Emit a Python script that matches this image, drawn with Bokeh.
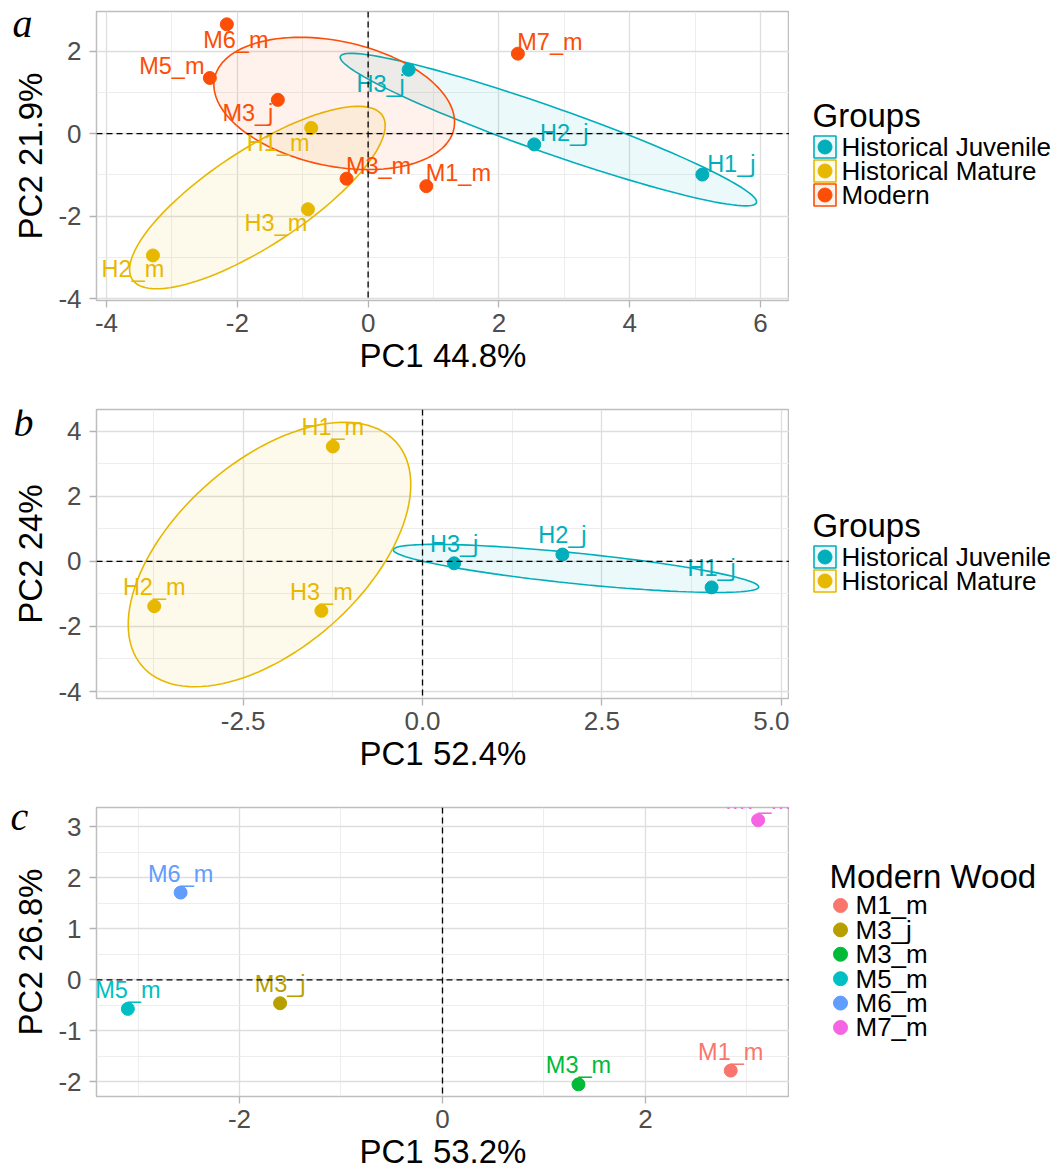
import numpy as np
from bokeh.plotting import figure
from bokeh.models import ColumnDataSource, Range1d, FixedTicker, Span
from bokeh.layouts import column, row
from bokeh.core.properties import value
from bokeh.embed import file_html
from bokeh.resources import INLINE

# ---------------- data ----------------
group_names = ["Historical Juvenile", "Historical Mature", "Modern"]
group_colors = ["#00AFBB", "#E7B800", "#FC4E07"]

# panel a
a_names = ["H1_j", "H2_j", "H3_j", "H1_m", "H2_m", "H3_m",
           "M1_m", "M3_j", "M3_m", "M5_m", "M6_m", "M7_m"]
a_groups = ["Historical Juvenile"] * 3 + ["Historical Mature"] * 3 + ["Modern"] * 6
a_pc1 = [5.11, 2.54, 0.62, -0.87, -3.29, -0.92, 0.89, -1.38, -0.33, -2.42, -2.16, 2.29]
a_pc2 = [-0.99, -0.26, 1.55, 0.14, -2.95, -1.83, -1.27, 0.82, -1.09, 1.35, 2.65, 1.94]
a_xlabel = "PC1 44.8%"
a_ylabel = "PC2 21.9%"
a_xticks = [-4, -2, 0, 2, 4, 6]
a_xtick_labels = ["-4", "-2", "0", "2", "4", "6"]
a_yticks = [-4, -2, 0, 2]
a_ytick_labels = ["-4", "-2", "0", "2"]

# panel b
b_names = ["H1_j", "H2_j", "H3_j", "H1_m", "H2_m", "H3_m"]
b_groups = ["Historical Juvenile"] * 3 + ["Historical Mature"] * 3
b_pc1 = [4.03, 1.95, 0.44, -1.25, -3.74, -1.41]
b_pc2 = [-0.80, 0.21, -0.06, 3.53, -1.38, -1.52]
b_xlabel = "PC1 52.4%"
b_ylabel = "PC2 24%"
b_xticks = [-2.5, 0.0, 2.5, 5.0]
b_xtick_labels = ["-2.5", "0.0", "2.5", "5.0"]
b_yticks = [-4, -2, 0, 2, 4]
b_ytick_labels = ["-4", "-2", "0", "2", "4"]

# panel c
c_names = ["M1_m", "M3_j", "M3_m", "M5_m", "M6_m", "M7_m"]
c_colors = ["#F8766D", "#B79F00", "#00BA38", "#00BFC4", "#619CFF", "#F564E3"]
c_pc1 = [2.84, -1.60, 1.34, -3.10, -2.58, 3.11]
c_pc2 = [-1.78, -0.46, -2.05, -0.57, 1.71, 3.13]
c_xlabel = "PC1 53.2%"
c_ylabel = "PC2 26.8%"
c_xticks = [-2, 0, 2]
c_xtick_labels = ["-2", "0", "2"]
c_yticks = [-2, -1, 0, 1, 2, 3]
c_ytick_labels = ["-2", "-1", "0", "1", "2", "3"]

# ---------------- styling ----------------
FONT = "Liberation Sans"
LAB_SIZE = 23.5
LEG_SIZE = 26
TITLE_SIZE = 33
LETTER_SIZE = 40
BASE_FIX = 0.36      # em shift observed between requested and drawn baseline
LEFT_W = 48          # strip holding the panel letter and the y title
MAIN_W = 741         # 48 px tick-label border + 693 px frame
LEG_W = 268
FILL_ALPHA = 0.08

# label placement offsets (pixels, from point to label centre) for panel a
a_lab_dx = [29, 30, -28, -33, -20, -32, 32, -30, 32, -38, 9, 32]
a_lab_dy = [-11, -11, 14, 15, 14, 14, -13, 13, -13, -12, 16, -12]


def conf_ellipse(x, y, chi2=5.991, npts=120):
    x = np.asarray(x, float)
    y = np.asarray(y, float)
    n = len(x)
    cov = np.cov(x, y) / n
    vals, vecs = np.linalg.eigh(cov)
    t = np.linspace(0, 2 * np.pi, npts)
    circ = np.vstack([np.cos(t), np.sin(t)])
    pts = vecs @ (np.sqrt(vals * chi2)[:, None] * circ)
    return x.mean() + pts[0], y.mean() + pts[1]


def strip_fig(width, height, top, bottom, xr, yr):
    f = figure(width=width, height=height, x_range=Range1d(*xr), y_range=Range1d(*yr),
               output_backend="svg", toolbar_location=None,
               min_border_left=0, min_border_right=0,
               min_border_top=top, min_border_bottom=bottom,
               x_axis_location=None, y_axis_location=None)
    f.grid.visible = False
    f.outline_line_color = None
    f.background_fill_color = "white"
    f.border_fill_color = "white"
    return f


def left_fig(height, top, bottom, page_top, letter, letter_xy, ylabel):
    # coordinates: x = page x, y = -(page y)
    ft = page_top + top
    fb = page_top + height - bottom
    f = strip_fig(LEFT_W, height, top, bottom, (0, LEFT_W), (-fb, -ft))
    f.text([letter_xy[0]], [-(letter_xy[1] - BASE_FIX * LETTER_SIZE)], text=[letter],
           text_color="black", text_align="left", text_baseline="alphabetic",
           text_font=value("Liberation Serif"), text_font_style="italic",
           text_font_size=f"{LETTER_SIZE}px")
    f.text([42 - BASE_FIX * TITLE_SIZE], [-(ft + fb) / 2], text=[ylabel], angle=np.pi / 2,
           text_color="black", text_align="center", text_baseline="alphabetic",
           text_font=value(FONT), text_font_size=f"{TITLE_SIZE}px")
    return f


def main_fig(height, top, bottom, xr, yr, xt, xtl, xminor, yt, ytl, yminor, xlabel):
    p = figure(width=MAIN_W, height=height, x_range=Range1d(*xr), y_range=Range1d(*yr),
               output_backend="svg", toolbar_location=None,
               min_border_left=LEFT_W, min_border_right=0,
               min_border_top=top, min_border_bottom=bottom)
    p.background_fill_color = "white"
    p.border_fill_color = "white"
    p.outline_line_color = "#BEBEBE"
    p.outline_line_width = 1.5

    p.xaxis.ticker = FixedTicker(ticks=xt, minor_ticks=xminor)
    p.yaxis.ticker = FixedTicker(ticks=yt, minor_ticks=yminor)
    p.xaxis.major_label_overrides = {t: s for t, s in zip(xt, xtl)}
    p.yaxis.major_label_overrides = {t: s for t, s in zip(yt, ytl)}
    for ax in (p.xaxis, p.yaxis):
        ax.axis_line_color = None
        ax.major_tick_line_color = "#B3B3B3"
        ax.major_tick_line_width = 1.3
        ax.major_tick_out = 7
        ax.major_tick_in = 0
        ax.minor_tick_out = 0
        ax.minor_tick_in = 0
        ax.major_label_text_font = FONT
        ax.major_label_text_font_size = "26px"
        ax.major_label_text_color = "#4D4D4D"
        ax.axis_label_text_font = FONT
        ax.axis_label_text_font_size = f"{TITLE_SIZE}px"
        ax.axis_label_text_font_style = "normal"
        ax.axis_label_text_color = "black"
    p.xaxis.major_label_standoff = 6
    p.xaxis.axis_label_standoff = 2
    p.yaxis.major_label_standoff = 8
    p.xaxis.axis_label = xlabel

    for g in (p.xgrid, p.ygrid):
        g.grid_line_color = "#DEDEDE"
        g.grid_line_width = 1.3
        g.minor_grid_line_color = "#EBEBEB"
        g.minor_grid_line_width = 0.9

    p.add_layout(Span(location=0, dimension="width", line_color="black",
                      line_dash="6 4", line_width=1.3))
    p.add_layout(Span(location=0, dimension="height", line_color="black",
                      line_dash="6 4", line_width=1.3))
    return p


def label_offset(dy):
    # centre of the capitals at dy px below the point
    return dy + 0.358 * LAB_SIZE - BASE_FIX * LAB_SIZE


def add_groups(p, names, groups, pc1, pc2, dx, dy, present):
    cmap = dict(zip(group_names, group_colors))
    for g in present:
        xs = [x for x, gg in zip(pc1, groups) if gg == g]
        ys = [y for y, gg in zip(pc2, groups) if gg == g]
        ex, ey = conf_ellipse(xs, ys)
        p.patch(ex, ey, fill_color=cmap[g], fill_alpha=FILL_ALPHA,
                line_color=cmap[g], line_width=1.6)
    cols = [cmap[g] for g in groups]
    src = ColumnDataSource(dict(x=pc1, y=pc2, name=names, color=cols,
                                dx=dx, dy=[label_offset(d) for d in dy]))
    p.scatter("x", "y", source=src, size=13, color="color", line_color="color")
    p.text("x", "y", text="name", source=src, x_offset="dx", y_offset="dy",
           text_color="color", text_align="center", text_baseline="alphabetic",
           text_font=value(FONT), text_font_size=f"{LAB_SIZE}px")


def legend_fig(height, top, bottom, page_top, title, title_xy, labels, colors,
               row0, step, key_x, lab_x, boxed):
    # coordinates: x = page x, y = -(page y)
    ft = page_top + top
    fb = page_top + height - bottom
    x0 = LEFT_W + MAIN_W
    lf = strip_fig(LEG_W, height, top, bottom, (x0, x0 + LEG_W), (-fb, -ft))
    n = len(labels)
    ys = [row0 + i * step for i in range(n)]
    src = ColumnDataSource(dict(x=[key_x] * n, y=[-v for v in ys], lx=[lab_x] * n,
                                ly=[-(v + (0.358 - BASE_FIX) * LEG_SIZE) for v in ys],
                                label=labels, color=colors))
    if boxed:
        lf.rect("x", "y", width=22, height=22, source=src, fill_color="color",
                fill_alpha=FILL_ALPHA, line_color="color", line_width=1.6)
    lf.scatter("x", "y", source=src, size=14, color="color")
    lf.text("lx", "ly", text="label", source=src, text_color="black",
            text_baseline="alphabetic", text_align="left",
            text_font=value(FONT), text_font_size=f"{LEG_SIZE}px")
    lf.text([title_xy[0]], [-(title_xy[1] - BASE_FIX * TITLE_SIZE)], text=[title],
            text_color="black", text_baseline="alphabetic", text_align="left",
            text_font=value(FONT), text_font_size=f"{TITLE_SIZE}px")
    return lf


# ---------------- panel a ----------------
HA, TA, BA, PA = 390, 11, 90, 0
pa = main_fig(HA, TA, BA, (-4.153, 6.443), (-4.041, 2.961),
              a_xticks, a_xtick_labels, [-3, -1, 1, 3, 5],
              a_yticks, a_ytick_labels, [-3, -1, 1], a_xlabel)
add_groups(pa, a_names, a_groups, a_pc1, a_pc2, a_lab_dx, a_lab_dy, group_names)
lefta = left_fig(HA, TA, BA, PA, "a", (12, 37), a_ylabel)
la = legend_fig(HA, TA, BA, PA, "Groups", (812, 127), group_names, group_colors,
                146.5, 24, 824.5, 841, True)

# ---------------- panel b ----------------
HB, TB, BB, PB = 395, 19, 87, 390
pb = main_fig(HB, TB, BB, (-4.545, 5.116), (-4.215, 4.667),
              b_xticks, b_xtick_labels, [-3.75, -1.25, 1.25, 3.75],
              b_yticks, b_ytick_labels, [-3, -1, 1, 3], b_xlabel)
add_groups(pb, b_names, b_groups, b_pc1, b_pc2, [0] * 6, [-19] * 6, group_names[:2])
leftb = left_fig(HB, TB, BB, PB, "b", (13, 436), b_ylabel)
lb = legend_fig(HB, TB, BB, PB, "Groups", (812, 537), group_names[:2], group_colors[:2],
                556.5, 24, 824.5, 841, True)

# ---------------- panel c ----------------
HC, TC, BC, PC = 388, 22, 77, 785
pc = main_fig(HC, TC, BC, (-3.409, 3.419), (-2.288, 3.378),
              c_xticks, c_xtick_labels, [-3, -1, 1, 3],
              c_yticks, c_ytick_labels, [-1.5, -0.5, 0.5, 1.5, 2.5], c_xlabel)
srcc = ColumnDataSource(dict(x=c_pc1, y=c_pc2, name=c_names, color=c_colors,
                             dy=[label_offset(-19)] * 6))
pc.scatter("x", "y", source=srcc, size=13, color="color")
pc.text("x", "y", text="name", source=srcc, y_offset="dy", text_color="color",
        text_align="center", text_baseline="alphabetic",
        text_font=value(FONT), text_font_size=f"{LAB_SIZE}px")
leftc = left_fig(HC, TC, BC, PC, "c", (10, 830), c_ylabel)
lc = legend_fig(HC, TC, BC, PC, "Modern Wood", (829, 888), c_names, c_colors,
                905, 24.4, 840, 855, False)

layout = column(row(lefta, pa, la), row(leftb, pb, lb), row(leftc, pc, lc))
open("out.html", "w").write(file_html(layout, INLINE))
